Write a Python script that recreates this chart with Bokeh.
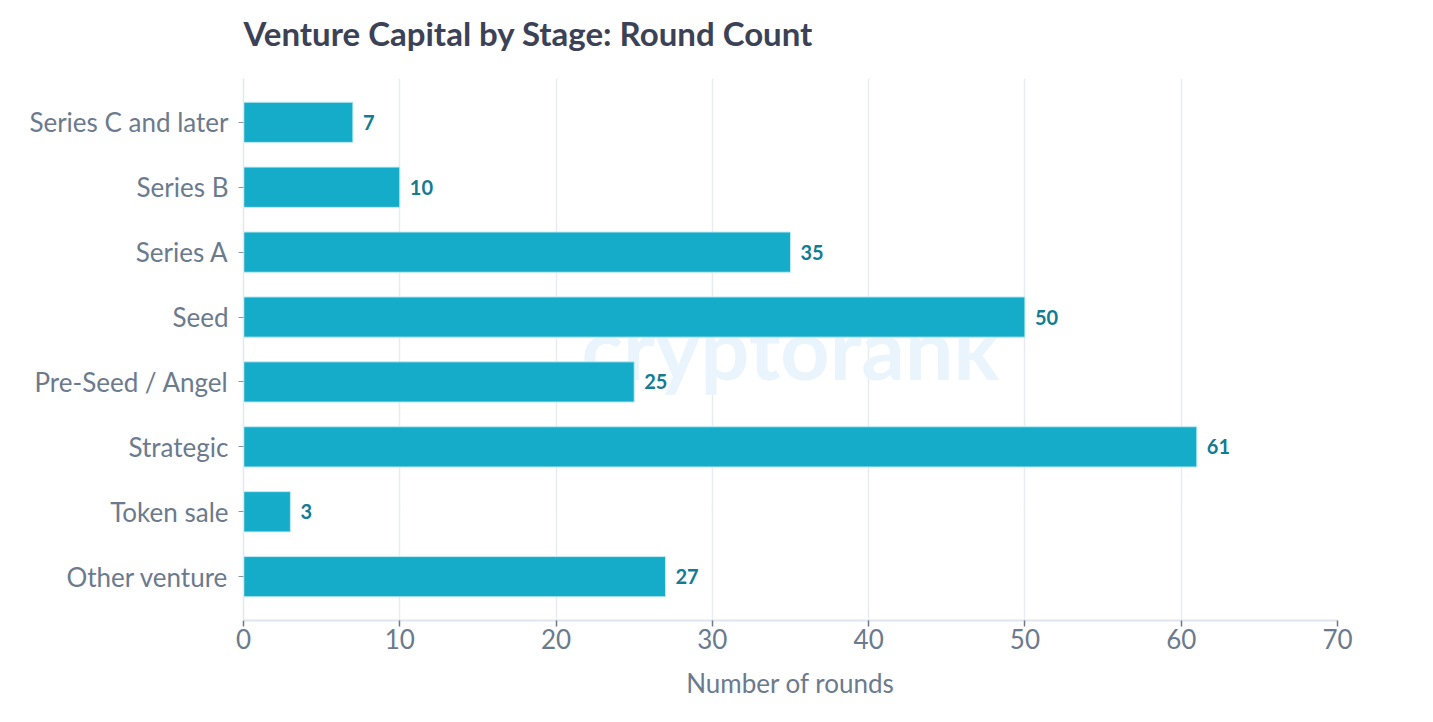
from bokeh.plotting import figure
from bokeh.models import ColumnDataSource, FactorRange, Label, Title
from bokeh.core.properties import value
from bokeh.embed import file_html
from bokeh.resources import INLINE

categories = ["Series C and later", "Series B", "Series A", "Seed",
              "Pre-Seed / Angel", "Strategic", "Token sale", "Other venture"]
rounds = [7, 10, 35, 50, 25, 61, 3, 27]
x_ticks = [0, 10, 20, 30, 40, 50, 60, 70]

FONT = "Lato"
order = list(reversed(categories))

src = ColumnDataSource(data=dict(cat=categories, val=rounds,
                                 lbl=[str(v) for v in rounds]))

p = figure(width=1410, height=701, output_backend="svg", toolbar_location=None,
           y_range=FactorRange(factors=order, range_padding=0.175,
                               range_padding_units="absolute"),
           x_range=(0, 70),
           min_border_left=243, min_border_right=73,
           min_border_top=78, min_border_bottom=80)

p.title.text = "Venture Capital by Stage: Round Count"
p.title.text_font = FONT
p.title.text_font_size = "33px"
p.title.text_font_style = "bold"
p.title.text_color = "#3b4256"
p.title.align = "left"
p.title.vertical_align = "top"
p.title.standoff = 10

# invisible spacer between title and plot area
spacer = Title(text=" ", text_font_size="1px", standoff=16,
               text_color="white")
p.add_layout(spacer, "above")

wm = Label(x=35, y=4.05, text="cryptorank", text_font=FONT,
           text_font_size="86px", text_font_style="bold",
           text_color="#eaf4fc", text_align="center", text_baseline="middle",
           level="underlay")
p.add_layout(wm)

p.hbar(y="cat", right="val", left=0, height=0.62, source=src,
       fill_color="#14acc9", line_color="#bfeaf3", line_width=1)

p.text(x="val", y="cat", text="lbl", source=src, x_offset=10,
       text_font=value(FONT), text_font_size="20px", text_font_style="bold",
       text_color="#127c92", text_baseline="middle", text_align="left")

p.outline_line_color = None
p.background_fill_color = "white"
p.border_fill_color = "white"

p.xgrid.grid_line_color = "#e8ecf1"
p.xgrid.grid_line_width = 1.5
p.xgrid.ticker = x_ticks
p.ygrid.grid_line_color = None

xa = p.xaxis[0]
xa.ticker = x_ticks
xa.axis_label = "Number of rounds"
xa.axis_label_text_font = FONT
xa.axis_label_text_font_size = "26px"
xa.axis_label_text_font_style = "normal"
xa.axis_label_text_color = "#6b7a8d"
xa.axis_label_standoff = 15
xa.major_label_text_font = FONT
xa.major_label_text_font_size = "26px"
xa.major_label_text_color = "#6b7a8d"
xa.major_label_standoff = 2
xa.axis_line_color = "#dfe5ee"
xa.axis_line_width = 2
xa.major_tick_line_color = "#6f7888"
xa.major_tick_line_width = 1.5
xa.major_tick_out = 6
xa.major_tick_in = 0
xa.minor_tick_line_color = None

ya = p.yaxis[0]
ya.major_label_text_font = FONT
ya.major_label_text_font_size = "26px"
ya.major_label_text_color = "#6b7a8d"
ya.major_label_standoff = 10
ya.axis_line_color = "#e3e8ef"
ya.axis_line_width = 1.5
ya.major_tick_line_color = "#8a94a3"
ya.major_tick_out = 5
ya.major_tick_in = 0

open("out.html", "w").write(file_html(p, INLINE))
